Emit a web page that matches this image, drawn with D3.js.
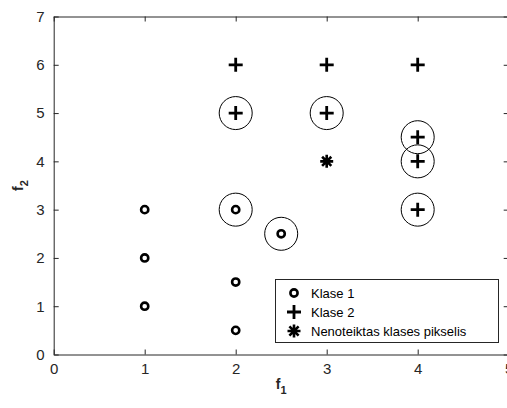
<!DOCTYPE html>
<html>
<head>
<meta charset="utf-8">
<script src="https://cdn.jsdelivr.net/npm/d3@7"></script>
<style>
  html, body { margin: 0; padding: 0; background: #fff; }
  svg { display: block; font-family: "Liberation Sans", Arial, Helvetica, sans-serif; }
</style>
</head>
<body>
<svg id="chart" width="507" height="408"></svg>
<script>
// Class 1 training pixels
const class1X = [1, 1, 1, 2, 2, 2, 2.5];
const class1Y = [1, 2, 3, 0.5, 1.5, 3, 2.5];
// Class 2 training pixels
const class2X = [2, 3, 4, 2, 3, 4, 4, 4];
const class2Y = [6, 6, 6, 5, 5, 4.5, 4, 3];
// Pixel of unknown class
const unknownX = [3];
const unknownY = [4];
// Nearest neighbours (ringed)
const ringX = [2, 3, 4, 4, 4, 2, 2.5];
const ringY = [5, 5, 4.5, 4, 3, 3, 2.5];

const xTicks = [0, 1, 2, 3, 4, 5];
const yTicks = [0, 1, 2, 3, 4, 5, 6, 7];
const legendLabels = ["Klase 1", "Klase 2", "Nenoteiktas klases pikselis"];

const svg = d3.select("#chart");
const axisColor = "#262626";

const x = d3.scaleLinear().domain([0, 5]).range([53.7, 508.7]);
const y = d3.scaleLinear().domain([0, 7]).range([354.5, 16.5]);
const fmt = d3.format("d");

// Axes (box with inward ticks)
const gx = svg.append("g").attr("transform", `translate(0,${y(0)})`)
  .call(d3.axisBottom(x).tickValues(xTicks).tickFormat(fmt).tickSizeInner(-5).tickSizeOuter(0).tickPadding(9));
const gy = svg.append("g").attr("transform", `translate(${x(0)},0)`)
  .call(d3.axisLeft(y).tickValues(yTicks).tickFormat(fmt).tickSizeInner(-5).tickSizeOuter(0).tickPadding(9));
const gt = svg.append("g").attr("transform", `translate(0,${y(7)})`)
  .call(d3.axisTop(x).tickValues(xTicks).tickSizeInner(-5).tickSizeOuter(0).tickFormat(""));
const gr = svg.append("g").attr("transform", `translate(${x(5)},0)`)
  .call(d3.axisRight(y).tickValues(yTicks).tickSizeInner(-5).tickSizeOuter(0).tickFormat(""));

[gx, gy, gt, gr].forEach(g => {
  g.selectAll(".domain").attr("stroke", axisColor).attr("stroke-width", 1);
  g.selectAll(".tick line").attr("stroke", axisColor).attr("stroke-width", 1);
  g.selectAll(".tick text").attr("fill", axisColor).style("font-size", "15px");
});
gx.selectAll(".tick text").attr("dy", "0.71em");

// Axis labels
const xl = svg.append("text").attr("x", x(2.5)).attr("y", 389)
  .attr("text-anchor", "middle").attr("fill", axisColor)
  .style("font-size", "14px").style("font-weight", "bold");
xl.append("tspan").text("f");
xl.append("tspan").attr("dy", 5).style("font-size", "11px").text("1");

const yl = svg.append("text")
  .attr("transform", `translate(23,${y(3.5)}) rotate(-90)`)
  .attr("text-anchor", "middle").attr("fill", axisColor)
  .style("font-size", "14px").style("font-weight", "bold");
yl.append("tspan").text("f");
yl.append("tspan").attr("dy", 5).style("font-size", "11px").text("2");

// Marker shapes
function drawCircleMarker(g, cx, cy) {
  g.append("circle").attr("cx", cx).attr("cy", cy).attr("r", 3.6)
    .attr("fill", "none").attr("stroke", "#000").attr("stroke-width", 2.6);
}
function drawPlus(g, cx, cy) {
  g.append("path").attr("d", `M${cx - 7},${cy}H${cx + 7}M${cx},${cy - 7}V${cy + 7}`)
    .attr("stroke", "#000").attr("stroke-width", 2.8).attr("fill", "none");
}
function drawStar(g, cx, cy) {
  const r = 6.5;
  let d = "";
  for (let i = 0; i < 4; i++) {
    const a = i * Math.PI / 4;
    d += `M${cx - r * Math.cos(a)},${cy - r * Math.sin(a)}L${cx + r * Math.cos(a)},${cy + r * Math.sin(a)}`;
  }
  g.append("path").attr("d", d).attr("stroke", "#000").attr("stroke-width", 2.6).attr("fill", "none");
}

const marks = svg.append("g");

// Neighbourhood rings
ringX.forEach((v, i) => {
  marks.append("circle").attr("cx", x(v)).attr("cy", y(ringY[i])).attr("r", 16.5)
    .attr("fill", "none").attr("stroke", "#000").attr("stroke-width", 1);
});

class1X.forEach((v, i) => drawCircleMarker(marks, x(v), y(class1Y[i])));
class2X.forEach((v, i) => drawPlus(marks, x(v), y(class2Y[i])));
unknownX.forEach((v, i) => drawStar(marks, x(v), y(unknownY[i])));

// Legend
const leg = svg.append("g");
leg.append("rect").attr("x", 275.5).attr("y", 279.5).attr("width", 223).attr("height", 63)
  .attr("fill", "#fff").attr("stroke", axisColor).attr("stroke-width", 1);
const legY = [293, 312, 331];
const drawers = [drawCircleMarker, drawPlus, drawStar];
legendLabels.forEach((lab, i) => {
  drawers[i](leg, 294, legY[i]);
  leg.append("text").attr("x", 311).attr("y", legY[i]).attr("dy", "0.35em")
    .attr("fill", "#000").style("font-size", "13px").text(lab);
});
</script>
</body>
</html>
